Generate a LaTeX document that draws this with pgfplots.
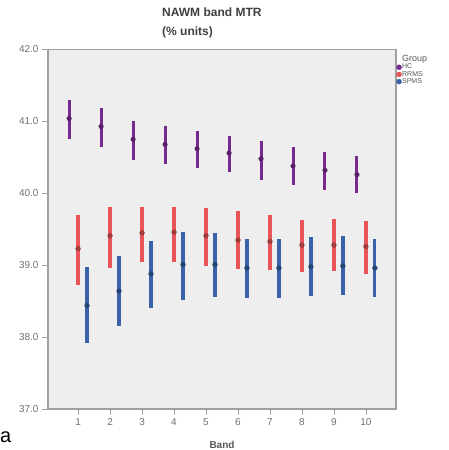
\documentclass[border=0pt]{standalone}
\usepackage{pgfplots}
\pgfplotsset{compat=1.18}
\usepackage{pgfplotstable}
\usepackage{fontspec}
\setmainfont{Liberation Sans}
\definecolor{hc}{RGB}{118,42,140}
\definecolor{rrms}{RGB}{232,84,88}
\definecolor{spms}{RGB}{58,98,168}
\definecolor{tickgray}{RGB}{110,110,110}
\definecolor{bg}{RGB}{238,238,238}
\definecolor{frame}{RGB}{160,160,160}

\pgfplotstableread{
x y ep em
0.72 41.04 0.26 0.28
1.72 40.93 0.26 0.28
2.72 40.75 0.25 0.28
3.72 40.68 0.26 0.27
4.72 40.62 0.25 0.27
5.72 40.56 0.24 0.27
6.72 40.48 0.25 0.29
7.72 40.38 0.26 0.27
8.72 40.32 0.26 0.27
9.72 40.26 0.26 0.26
}\hcdata
\pgfplotstableread{
x y ep em
1 39.23 0.47 0.50
2 39.41 0.40 0.45
3 39.45 0.36 0.40
4 39.46 0.35 0.41
5 39.41 0.38 0.42
6 39.35 0.40 0.40
7 39.33 0.37 0.40
8 39.28 0.35 0.38
9 39.28 0.36 0.36
10 39.26 0.36 0.38
}\rrmsdata
\pgfplotstableread{
x y ep em
1.28 38.44 0.54 0.52
2.28 38.64 0.49 0.49
3.28 38.88 0.46 0.47
4.28 39.01 0.45 0.49
5.28 39.01 0.44 0.45
6.28 38.96 0.40 0.41
7.28 38.96 0.40 0.41
8.28 38.98 0.41 0.41
9.28 38.99 0.41 0.40
10.28 38.96 0.40 0.40
}\spmsdata

\begin{document}
\begin{tikzpicture}[x=1pt,y=1pt]
\path[use as bounding box] (-48,-41) rectangle (400,409);
\begin{axis}[
  at={(0,0)}, anchor=south west,
  scale only axis, width=348pt, height=359.5pt,
  xmin=0.06, xmax=10.94, ymin=37, ymax=42,
  xtick={1,...,10}, ytick={37,38,...,42},
  /pgf/number format/assume math mode=true,
  yticklabel style={/pgf/number format/.cd, fixed, fixed zerofill, precision=1},
  tick label style={font=\fontsize{10}{11}\selectfont, text=tickgray},
  tick align=outside, major tick length=6pt,
  tick style={frame, line width=0.8pt},
  xtick pos=bottom, ytick pos=left,
  axis background/.style={fill=bg},
  axis line style={frame, line width=1.2pt},
  xlabel={Band},
  xlabel style={font=\bfseries\fontsize{10}{11}\selectfont, text=tickgray!80!black, at={(axis description cs:0.5,-0.1085)}, anchor=base},
  legend style={at={(axis description cs:1.0,0.985)}, anchor=north west, draw=none, fill=none,
    font=\fontsize{7}{7.5}\selectfont, text=tickgray!80!black, inner sep=0pt, row sep=0pt,
    nodes={inner sep=0.4pt}},
  legend cell align=left,
  legend image code/.code={\fill[#1] (0.1cm,0) circle (2.5pt);},
]
\addlegendimage{empty legend}
\addlegendentry{\fontsize{9}{10}\selectfont Group}
\addlegendimage{hc}
\addlegendentry{HC}
\addlegendimage{rrms}
\addlegendentry{RRMS}
\addlegendimage{spms}
\addlegendentry{SPMS}

\addplot[forget plot, draw=none, mark=none,
  error bars/.cd, y dir=both, y explicit, error mark=none,
  error bar style={line width=3pt, color=hc}]
  table[x=x, y=y, y error plus=ep, y error minus=em] {\hcdata};
\addplot[forget plot, only marks, mark=*, mark size=2.3pt, color=hc!75!black]
  table[x=x, y=y] {\hcdata};
\addplot[forget plot, draw=none, mark=none,
  error bars/.cd, y dir=both, y explicit, error mark=none,
  error bar style={line width=3.2pt, color=rrms}]
  table[x=x, y=y, y error plus=ep, y error minus=em] {\rrmsdata};
\addplot[forget plot, only marks, mark=*, mark size=2.4pt, color=rrms!70!black]
  table[x=x, y=y] {\rrmsdata};
\addplot[forget plot, draw=none, mark=none,
  error bars/.cd, y dir=both, y explicit, error mark=none,
  error bar style={line width=3.2pt, color=spms}]
  table[x=x, y=y, y error plus=ep, y error minus=em] {\spmsdata};
\addplot[forget plot, only marks, mark=*, mark size=2.4pt, color=spms!70!black]
  table[x=x, y=y] {\spmsdata};
\end{axis}
\node[anchor=north west, align=left, inner sep=0pt, font=\bfseries\fontsize{12}{19}\selectfont, text=black!75]
  at (114,401) {NAWM band MTR\\(\% units)};
\node[anchor=base west, inner sep=0pt, font=\fontsize{20}{22}\selectfont] at (-48,-33) {a};
\end{tikzpicture}
\end{document}
